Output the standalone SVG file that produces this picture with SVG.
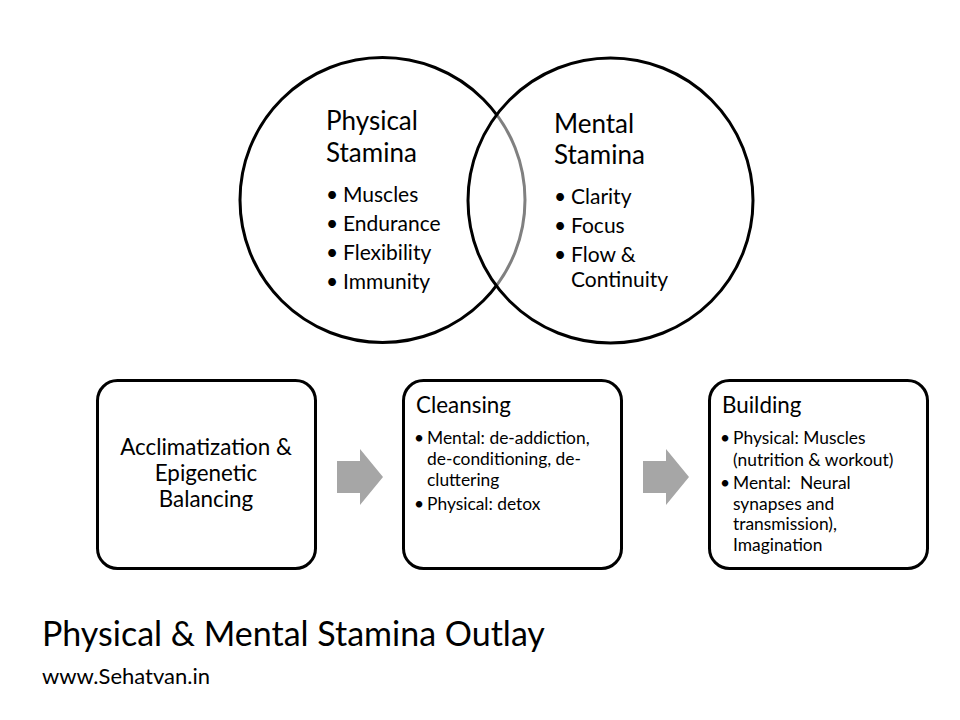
<svg xmlns="http://www.w3.org/2000/svg" width="960" height="720" viewBox="0 0 960 720">
<style>
text{font-family:Lato,"Open Sans","DejaVu Sans",sans-serif;fill:#000}
.circ{stroke:#000;stroke-width:3}
.box{fill:#fff;stroke:#000;stroke-width:3}
.h{font-size:26px}
.li{font-size:21px}
.bt{font-size:22.4px}
.sm{font-size:17.4px}
.arr{fill:#a6a6a6}
</style>
<rect width="960" height="720" fill="#fff"/>
<g id="physical-stamina">
<circle class="circ" cx="382.5" cy="200" r="142.5" fill="#fff"/>
</g>
<g id="mental-stamina">
<circle class="circ" cx="610.5" cy="200.5" r="142.5" fill="#fff" fill-opacity="0.5"/>
</g>
<g id="physical-text">
<text class="h" x="326" y="130">Physical</text>
<text class="h" x="326" y="162">Stamina</text>
<text class="li" x="326" y="202">•</text><text class="li" x="343" y="202">Muscles</text>
<text class="li" x="326" y="231">•</text><text class="li" x="343" y="231">Endurance</text>
<text class="li" x="326" y="260">•</text><text class="li" x="343" y="260">Flexibility</text>
<text class="li" x="326" y="289">•</text><text class="li" x="343" y="289">Immunity</text>
</g>
<g id="mental-text">
<text class="h" x="554" y="133">Mental</text>
<text class="h" x="554" y="164">Stamina</text>
<text class="li" x="554" y="204">•</text><text class="li" x="571" y="204">Clarity</text>
<text class="li" x="554" y="233">•</text><text class="li" x="571" y="233">Focus</text>
<text class="li" x="554" y="262">•</text><text class="li" x="571" y="262">Flow &amp;</text>
<text class="li" x="571" y="287">Continuity</text>
</g>
<g id="acclimatization">
<rect class="box" x="97.5" y="380.5" width="218" height="188" rx="20"/>
<text class="bt" x="206" y="455" text-anchor="middle">Acclimatization &amp;</text>
<text class="bt" x="206" y="481" text-anchor="middle">Epigenetic</text>
<text class="bt" x="206" y="507" text-anchor="middle">Balancing</text>
</g>
<g id="cleansing">
<rect class="box" x="403.5" y="380.5" width="218" height="188" rx="20"/>
<text class="bt" x="416" y="413">Cleansing</text>
<text class="sm" x="414" y="444">•</text><text class="sm" x="427" y="444">Mental: de-addiction,</text>
<text class="sm" x="427" y="465">de-conditioning, de-</text>
<text class="sm" x="427" y="486">cluttering</text>
<text class="sm" x="414" y="510">•</text><text class="sm" x="427" y="510">Physical: detox</text>
</g>
<g id="building">
<rect class="box" x="709.5" y="380.5" width="218" height="188" rx="20"/>
<text class="bt" x="722" y="413">Building</text>
<text class="sm" x="720" y="444">•</text><text class="sm" x="733" y="444">Physical: Muscles</text>
<text class="sm" x="733" y="466">(nutrition &amp; workout)</text>
<text class="sm" x="720" y="489">•</text><text class="sm" x="733" y="489" xml:space="preserve">Mental:  Neural</text>
<text class="sm" x="733" y="510">synapses and</text>
<text class="sm" x="733" y="530">transmission),</text>
<text class="sm" x="733" y="551">Imagination</text>
</g>
<g id="connectors">
<polygon class="arr" points="337,461 360,461 360,449 383,477 360,505 360,493 337,493"/>
<polygon class="arr" points="643,461 666,461 666,449 689,477 666,505 666,493 643,493"/>
</g>
<g id="title">
<text x="42" y="646" font-size="34">Physical &amp; Mental Stamina Outlay</text>
<text x="42" y="684" font-size="22">www.Sehatvan.in</text>
</g>
</svg>
